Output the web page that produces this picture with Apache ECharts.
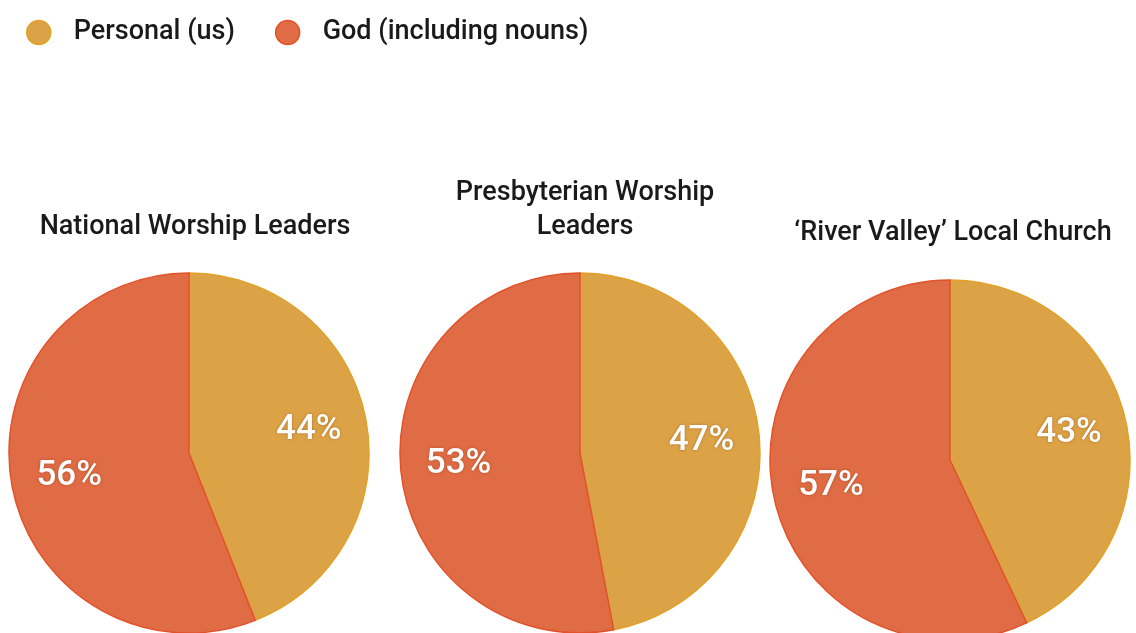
<!DOCTYPE html>
<html>
<head>
<meta charset="utf-8">
<script src="https://cdn.jsdelivr.net/npm/echarts@6/dist/echarts.min.js"></script>
<style>
  html, body { margin: 0; padding: 0; background: #fff; }
  #main { width: 1136px; height: 633px; }
</style>
</head>
<body>
<div id="main"></div>
<script>
// categories
const categories = ['Personal (us)', 'God (including nouns)']
// groups (one pie each)
const groupTitles = ['National Worship Leaders', 'Presbyterian Worship\nLeaders', '\u2018River Valley\u2019 Local Church']
// share in percent: [personal, god]
const personalValues = [44, 47, 43]
const godValues = [56, 53, 57]

const fillColors = ['#DCA346', '#E06C45']
const edgeColors = ['#E2A026', '#E2522A']

const centers = [[189, 453], [580, 453], [950, 460]]
const titlePos = [[190, 205], [580, 171], [948, 211]]

const series = []
const titles = []
groupTitles.forEach((t, i) => {
  const vals = [personalValues[i], godValues[i]]
  // filled pie
  series.push({
    type: 'pie',
    center: centers[i],
    radius: [0, 180],
    startAngle: 90,
    clockwise: true,
    animation: false,
    label: { show: false },
    labelLine: { show: false },
    emphasis: { disabled: true },
    data: vals.map((v, k) => ({
      name: categories[k],
      value: v,
      itemStyle: { color: fillColors[k], borderColor: edgeColors[k], borderWidth: 1.5 }
    }))
  })
  // transparent ring, only for placing labels further out
  series.push({
    type: 'pie',
    center: centers[i],
    radius: [58, 180],
    startAngle: 90,
    clockwise: true,
    animation: false,
    silent: true,
    itemStyle: { color: 'rgba(0,0,0,0)', borderWidth: 0 },
    label: {
      show: true,
      position: 'inside',
      formatter: '{c}%',
      color: '#fff',
      fontSize: 35,
      fontWeight: 500,
      fontFamily: 'Roboto',
      padding: [10, 0, 0, 0],
      textShadowColor: 'rgba(120,40,0,0.45)',
      textShadowBlur: 3
    },
    labelLine: { show: false },
    emphasis: { disabled: true },
    data: vals.map((v, k) => ({ name: categories[k], value: v }))
  })
  titles.push({
    text: t,
    left: titlePos[i][0],
    top: titlePos[i][1],
    textAlign: 'center',
    textStyle: {
      fontFamily: 'Roboto',
      fontSize: 27,
      fontWeight: 500,
      color: '#1a1a1a',
      lineHeight: 34
    }
  })
})

const chart = echarts.init(document.getElementById('main'))
chart.setOption({
  animation: false,
  title: titles,
  legend: {
    left: 21,
    top: 14,
    icon: 'circle',
    itemWidth: 24,
    itemHeight: 24,
    itemGap: 40,
    selectedMode: false,
    textStyle: { fontFamily: 'Roboto', fontSize: 27, fontWeight: 500, color: '#1a1a1a', padding: [0, 0, 0, 18] },
    data: categories.map((c, k) => ({
      name: c,
      itemStyle: { color: fillColors[k], borderColor: edgeColors[k], borderWidth: 1.5 }
    }))
  },
  series: series
})
</script>
</body>
</html>
